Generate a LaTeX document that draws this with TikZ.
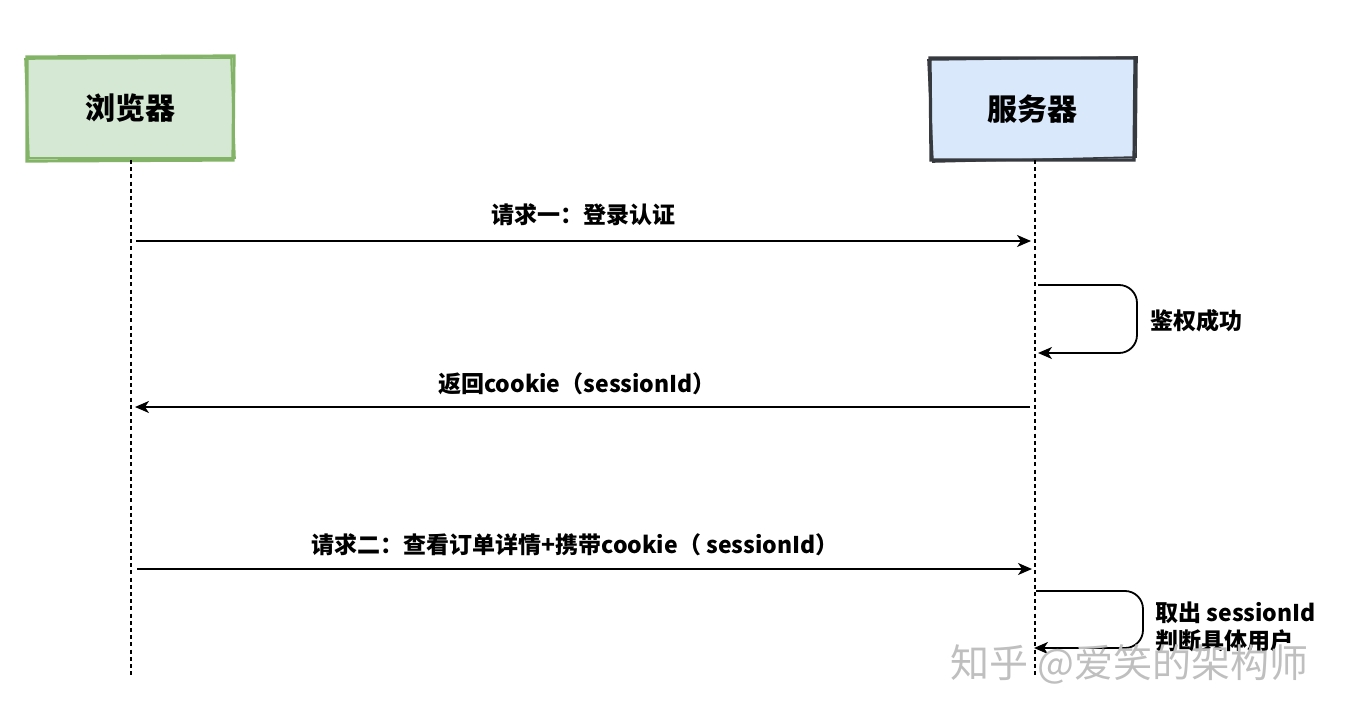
\documentclass[tikz,border=0pt]{standalone}
\usepackage{fontspec}
\setmainfont{Noto Sans CJK SC}
\usetikzlibrary{arrows.meta}
\definecolor{gfill}{HTML}{D5E8D4}
\definecolor{gline}{HTML}{82B366}
\definecolor{bfill}{HTML}{DAE8FC}
\definecolor{bline}{HTML}{36393D}
\begin{document}
\begin{tikzpicture}[x=0.5pt,y=-0.5pt,
  actor/.style={minimum width=103pt,minimum height=51pt,inner sep=0pt,font=\fontsize{15}{18}\selectfont\bfseries},
  life/.style={dash pattern=on 2pt off 1.6pt,line width=0.9pt},
  msg/.style={line width=0.9pt,-{Stealth[length=7pt,width=6pt,inset=2pt]}},
  lbl/.style={font=\fontsize{11.5}{14}\selectfont\bfseries,inner sep=0pt},
  wm/.style={font=\fontsize{19.5}{22}\selectfont,text=black!25,inner sep=0pt}]
\useasboundingbox (0,0) rectangle (1350,722);
% actors
\node[actor,fill=gfill] (br) at (130,108.5) {浏览器};
\draw[gline,line width=1.6pt] (27,57) -- (234,56) -- (233,160) -- (27,161) -- cycle;
\draw[gline,line width=0.8pt] (25,59) -- (231,58) -- (235,158) -- (29,158) -- cycle;
\node[actor,fill=bfill] (sv) at (1032.5,109) {服务器};
\draw[bline,line width=1.6pt] (930,58) -- (1135,58) -- (1134,160) -- (931,160) -- cycle;
\draw[bline,line width=0.8pt] (928,60) -- (1137,57) -- (1136,157) -- (933,162) -- cycle;
% lifelines
\coordinate (bt) at (131,160);
\coordinate (bb) at (131,676);
\coordinate (st) at (1035,160);
\coordinate (sb) at (1035,676);
\draw[life] (bt) -- (bb);
\draw[life] (st) -- (sb);
% messages
\coordinate (m1a) at (136,241); \coordinate (m1b) at (1031,241);
\draw[msg] (m1a) -- (m1b);
\node[lbl] (l1) at (583,215) {请求一：登录认证};
\coordinate (s1a) at (1038,285); \coordinate (s1b) at (1038,353);
\draw[msg,rounded corners=9pt] (s1a) -- (1137,285) -- (1137,353) -- (s1b);
\node[lbl,anchor=west] (l2) at (1150,321) {鉴权成功};
\coordinate (m2a) at (1030,407); \coordinate (m2b) at (135,407);
\draw[msg] (m2a) -- (m2b);
\node[lbl] (l3) at (577,384) {返回cookie（sessionId）};
\coordinate (m3a) at (137,569); \coordinate (m3b) at (1032,569);
\draw[msg] (m3a) -- (m3b);
\node[lbl] (l4) at (575,545) {请求二：查看订单详情+携带cookie（ sessionId）};
\coordinate (s2a) at (1036,591); \coordinate (s2b) at (1034,648);
\draw[msg,rounded corners=9pt] (s2a) -- (1143,591) -- (1143,648) -- (s2b);
\node[lbl,anchor=west,align=left] (l5) at (1155,627) {取出 sessionId\\判断具体用户};
% watermark
\node[wm,anchor=west] (wmk) at (950,664) {知乎 @爱笑的架构师};
\end{tikzpicture}
\end{document}
